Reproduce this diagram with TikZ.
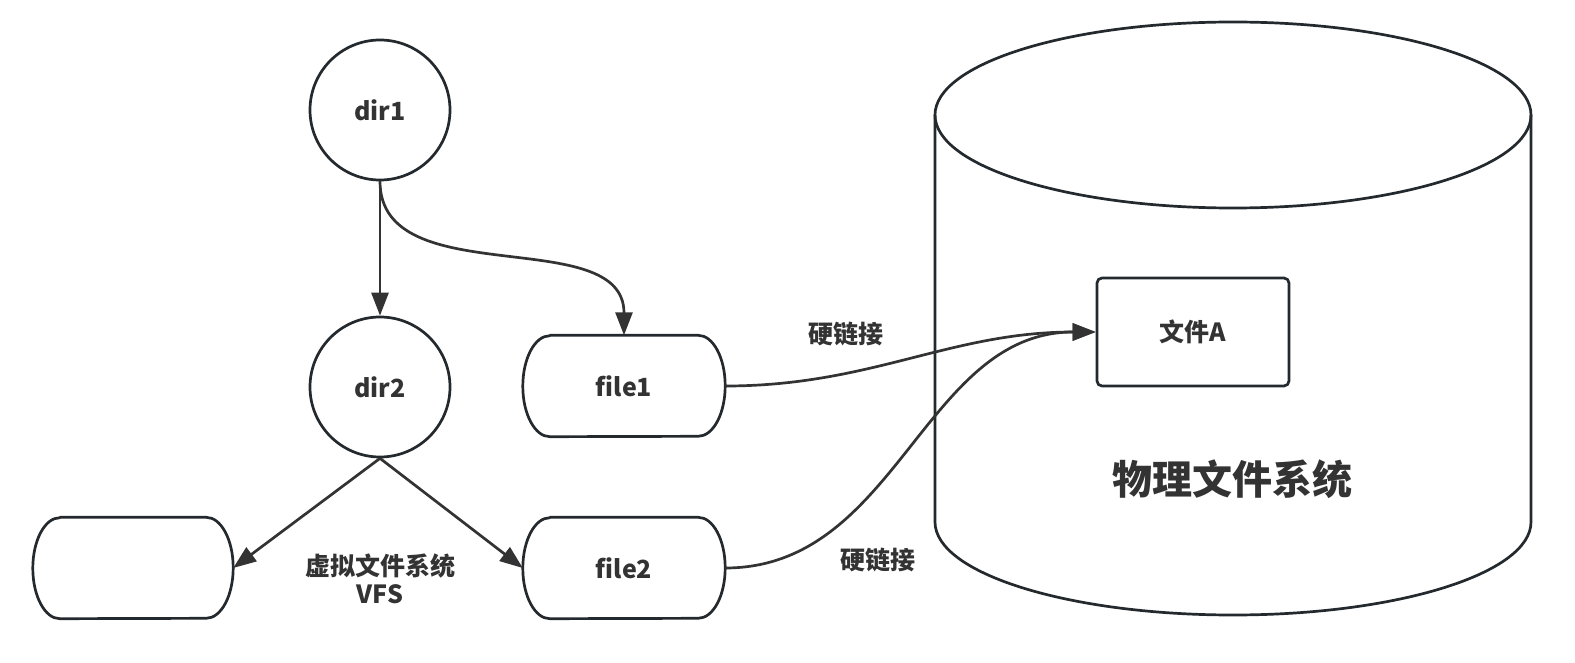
\documentclass[tikz,border=0pt]{standalone}
\usepackage{fontspec}
\newfontfamily\cjk{Noto Sans CJK SC}
\usetikzlibrary{arrows.meta}
\definecolor{txt}{HTML}{333333}
\definecolor{shp}{HTML}{24292E}
\definecolor{edg}{HTML}{333333}
\tikzset{
  shapeline/.style={draw=shp, line width=2.7pt, line join=round},
  lbl/.style={text=txt, font=\cjk\bfseries\fontsize{25}{28}\selectfont, inner sep=0pt, align=center},
  dircircle/.style={circle, shapeline, minimum size=140pt, inner sep=0pt, lbl},
  stadbox/.style={rectangle, minimum width=202pt, minimum height=101pt, inner sep=0pt, lbl},
  filea/.style={rectangle, shapeline, rounded corners=5pt, minimum width=192pt, minimum height=108pt, inner sep=0pt, lbl},
  conn/.style={draw=edg, line width=2.7pt, -{Triangle[length=23pt,width=17pt]}},
}
\newcommand{\stadoutline}[1]{%
  \draw[shapeline] ([xshift=27pt]#1.north west) -- ([xshift=-27pt]#1.north east)
    arc[start angle=90,end angle=-90,x radius=27pt,y radius=50.5pt]
    -- ([xshift=27pt]#1.south west)
    arc[start angle=270,end angle=90,x radius=27pt,y radius=50.5pt] -- cycle;}
\begin{document}
\begin{tikzpicture}[x=1pt,y=-1pt]
\useasboundingbox (0,0) rectangle (1575,663);
\fill[white] (0,0) rectangle (1575,663);
% cylinder (physical file system)
\draw[shapeline] (935,115) -- (935,522) arc[start angle=180,end angle=360,x radius=298pt,y radius=93pt] -- (1531,115);
\draw[shapeline] (1233,115) ellipse[x radius=298pt,y radius=93pt];
\node[lbl, font=\cjk\bfseries\fontsize{40}{44}\selectfont] (phys) at (1232,479) {物理文件系统};
% nodes
\node[dircircle] (dir1) at (380,110) {dir1};
\node[dircircle] (dir2) at (380,387) {dir2};
\node[stadbox] (file1) at (624,386) {file1};
\node[stadbox] (file2) at (624,568) {file2};
\node[stadbox, minimum width=200pt] (empty) at (133,568) {};
\stadoutline{file1}
\stadoutline{file2}
\stadoutline{empty}
\node[filea] (fa) at (1193,332) {文件A};
\node[lbl] (vfs) at (380,579) {虚拟文件系统\\VFS};
\node[lbl] (hl1) at (846,334) {硬链接};
\node[lbl] (hl2) at (878,560) {硬链接};
% connectors
\draw[conn] (dir1.south) -- (dir2.north);
\draw[conn] (dir1.south) to[out=-90,in=90] (file1.north);
\draw[conn] (dir2.south) -- (empty.east);
\draw[conn] (dir2.south) -- (file2.west);
\draw[conn] (file1.east) to[out=0,in=180] (fa.west);
\draw[conn] (file2.east) to[out=0,in=180] (fa.west);
\end{tikzpicture}
\end{document}
